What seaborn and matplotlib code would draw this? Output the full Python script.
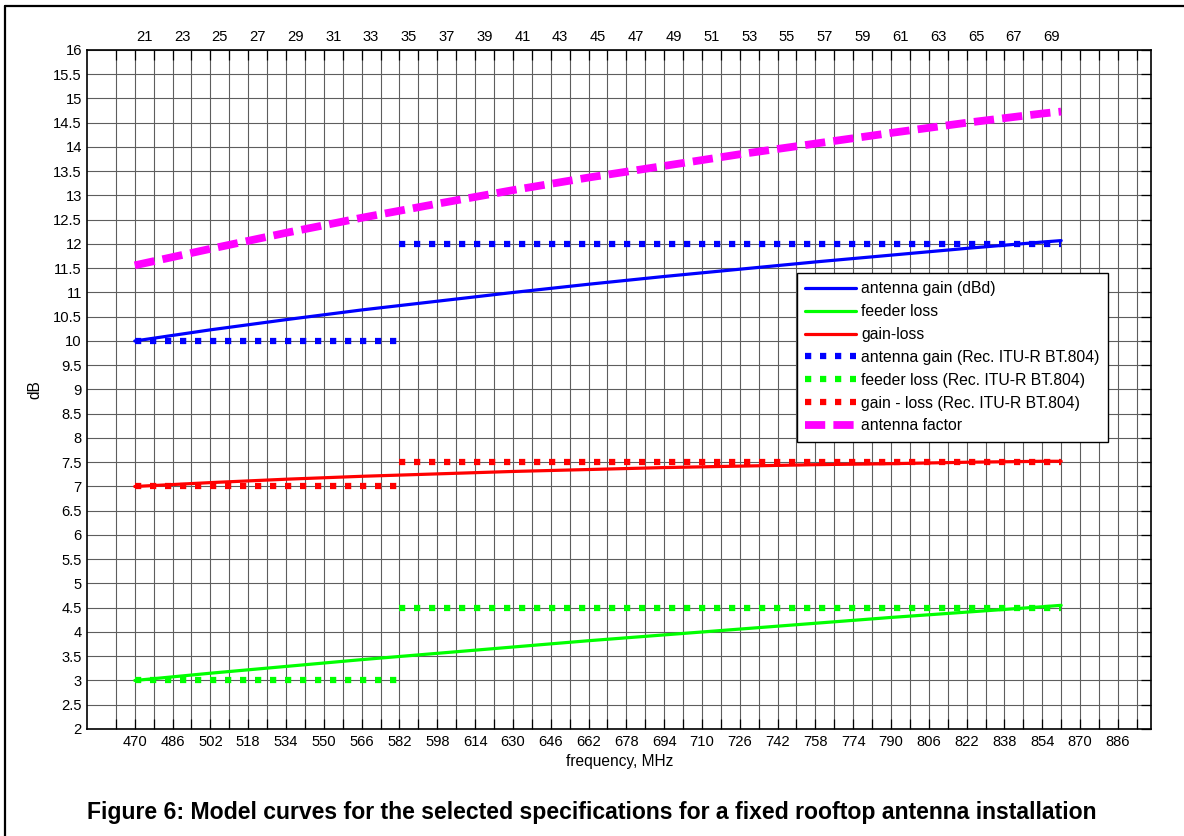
import numpy as np
import pandas as pd
import matplotlib
matplotlib.use("Agg")
import matplotlib.pyplot as plt
from matplotlib.lines import Line2D
import seaborn as sns

# Model curves (frequency in MHz, levels in dB)
freq = [470, 502, 534, 566, 598, 630, 662, 694, 726, 758, 790, 822, 854, 862]
antenna_gain = [10.00, 10.23, 10.44, 10.64, 10.82, 11.00, 11.17, 11.33, 11.48, 11.63, 11.77, 11.91, 12.04, 12.07]
feeder_loss = [3.00, 3.15, 3.29, 3.43, 3.56, 3.69, 3.82, 3.94, 4.06, 4.18, 4.30, 4.41, 4.52, 4.55]
gain_loss = [7.00, 7.08, 7.15, 7.21, 7.26, 7.31, 7.35, 7.39, 7.42, 7.45, 7.47, 7.50, 7.52, 7.52]
antenna_factor = [11.56, 11.90, 12.23, 12.54, 12.83, 13.11, 13.37, 13.61, 13.85, 14.07, 14.29, 14.50, 14.69, 14.73]

# Rec. ITU-R BT.804 planning values, band IV and band V
band_iv = [470, 582]
band_v = [582, 862]
itu_gain = [10.0, 12.0]
itu_loss = [3.0, 4.5]
itu_gain_loss = [7.0, 7.5]

# Axis ticks
channels = list(range(21, 70, 2))
channel_centres = [306 + 8 * c for c in channels]
freq_ticks = list(range(462, 895, 8))
freq_labels = [str(f) if (f - 470) % 16 == 0 and f >= 470 else "" for f in freq_ticks]
db_ticks = list(np.arange(2.0, 16.01, 0.5))
db_labels = ["%g" % v for v in db_ticks]

sns.set_theme(style="white")
plt.rcParams["font.family"] = ["Liberation Sans", "DejaVu Sans"]
for key in ("text.color", "axes.labelcolor", "xtick.color", "ytick.color"):
    plt.rcParams[key] = "black"
FS = 10.6
LFS = 11.3

fig = plt.figure(figsize=(11.84, 8.36), dpi=100)
ax = fig.add_axes([0.0739, 0.128, 0.8982, 0.8122])

df = pd.DataFrame({"f": freq, "gain": antenna_gain, "loss": feeder_loss,
                   "gl": gain_loss, "af": antenna_factor})

solid_lw = 2.3
sns.lineplot(data=df, x="f", y="gain", ax=ax, color="#0000ff", lw=solid_lw,
             label="antenna gain (dBd)", zorder=3)
sns.lineplot(data=df, x="f", y="loss", ax=ax, color="#00ff00", lw=solid_lw,
             label="feeder loss", zorder=3)
sns.lineplot(data=df, x="f", y="gl", ax=ax, color="#ff0000", lw=solid_lw,
             label="gain-loss", zorder=3)

dot_style = dict(lw=4.5, linestyle=(0, (1, 1.4)), dash_capstyle="butt", zorder=4)
itu_series = [(itu_gain, "#0000ff", "antenna gain (Rec. ITU-R BT.804)"),
              (itu_loss, "#00ff00", "feeder loss (Rec. ITU-R BT.804)"),
              (itu_gain_loss, "#ff0000", "gain - loss (Rec. ITU-R BT.804)")]
for levels, col, lab in itu_series:
    sns.lineplot(x=band_iv, y=[levels[0]] * 2, ax=ax, color=col, label=lab, **dot_style)
    sns.lineplot(x=band_v, y=[levels[1]] * 2, ax=ax, color=col, label="_nolegend_", **dot_style)

sns.lineplot(data=df, x="f", y="af", ax=ax, color="#ff00ff", lw=5.6,
             linestyle=(0, (2.6, 1.05)), dash_capstyle="butt",
             label="antenna factor", zorder=5)

ax.set_xlim(450, 900)
ax.set_ylim(2, 16)
ax.set_xticks(freq_ticks)
ax.set_xticklabels(freq_labels, fontsize=FS)
ax.set_yticks(db_ticks)
ax.set_yticklabels(db_labels, fontsize=FS)
ax.tick_params(axis="both", direction="in", length=7.5, width=0.9, color="black",
               labelcolor="black", right=True, top=False, pad=4)
ax.grid(True, color="#5e5e5e", lw=0.8)
for s in ax.spines.values():
    s.set_color("black")
    s.set_linewidth(1.2)
ax.set_xlabel("frequency, MHz", fontsize=11.2, labelpad=4, color="black")
ax.set_ylabel("dB", fontsize=11.2, labelpad=8, color="black")

# Channel numbers along the top
ax2 = ax.twiny()
ax2.set_xlim(ax.get_xlim())
ax2.set_xticks(freq_ticks)
ax2.set_xticklabels([""] * len(freq_ticks))
ax2.set_xticks(channel_centres, minor=True)
ax2.set_xticklabels([str(c) for c in channels], minor=True, fontsize=FS)
ax2.tick_params(axis="x", which="major", direction="in", length=7.5, width=0.9, color="black")
ax2.tick_params(axis="x", which="minor", length=0, pad=4, labelcolor="black")
ax2.grid(False)
for s in ax2.spines.values():
    s.set_visible(False)

leg = ax.legend(loc="upper left", bbox_to_anchor=(0.667, 0.672), borderaxespad=0,
                fontsize=LFS, frameon=True, fancybox=False, framealpha=1,
                edgecolor="black", handlelength=3.2, handletextpad=0.35,
                labelspacing=0.5, borderpad=0.55)
leg.get_frame().set_linewidth(1.0)
for t in leg.get_texts():
    t.set_color("black")
leg.set_zorder(10)

fig.text(0.5, 0.0287, "Figure 6: Model curves for the selected specifications for a fixed rooftop antenna installation",
         ha="center", va="center", fontsize=16.6, fontweight="bold", color="black")

# Page frame (top and left edges)
fig.add_artist(Line2D([5 / 1184, 1.0], [1 - 6 / 836] * 2, transform=fig.transFigure,
                      color="black", lw=1.6))
fig.add_artist(Line2D([5 / 1184] * 2, [0.0, 1 - 6 / 836], transform=fig.transFigure,
                      color="black", lw=1.6))

fig.savefig("out.png", dpi=100)
